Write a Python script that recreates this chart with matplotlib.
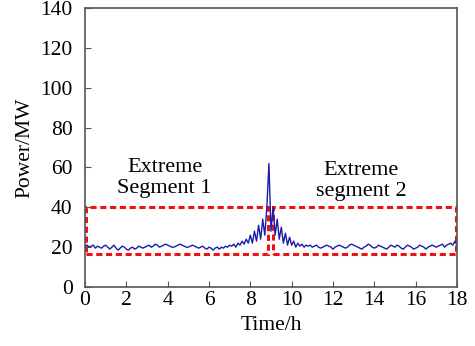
import numpy as np
import matplotlib
matplotlib.use('Agg')
import matplotlib.pyplot as plt
from matplotlib.patches import Rectangle

plt.rcParams['font.family'] = ['Liberation Serif', 'DejaVu Serif']

# power samples every 0.1 h from 0 to 18 h
power = [
    20.5, 21, 20, 20.5, 21, 19.5, 20.5, 20, 19.5, 20.5,
    21, 20, 19, 20, 21, 19.5, 18.5, 19.5, 20.5, 20,
    19, 18.5, 19.5, 20, 19, 19.5, 20.5, 20, 19.5, 20,
    20.5, 21, 20, 20.5, 21.5, 21, 20, 20.5, 21, 21.5,
    21, 20.5, 20, 20, 20.5, 21, 21.5, 21, 20.5, 20,
    20, 20.5, 21, 20.5, 20, 19.5, 20, 20.5, 19.5, 19,
    20, 19.5, 18.5, 19.5, 20, 19, 20, 19.5, 20.5, 20,
    21, 20.5, 21.5, 20, 22, 21, 23, 21.5, 24, 22,
    26, 22, 28, 23, 31, 24, 34, 26, 40, 62,
    28, 40, 26, 34, 24, 30, 22, 27, 21, 25,
    21, 23, 20, 22, 20.5, 21.5, 20, 21, 20.5, 21,
    20, 20.5, 21, 20, 19.5, 20, 20.5, 21, 20.5, 20,
    19, 20, 20.5, 21, 20.5, 20, 19.5, 20, 21, 21.5,
    21, 20.5, 20, 19.5, 19, 20, 20.5, 21.5, 21, 20,
    19.5, 20, 21, 20.5, 20, 19.5, 19, 20, 21, 20.5,
    20, 21, 20.5, 19.5, 19, 20, 21, 20.5, 20, 19,
    19.5, 20, 21, 20.5, 20, 19, 20, 20.5, 21, 20.5,
    20, 20.5, 21, 21.5, 20, 21, 21.5, 22, 21, 23,
    21,
]
time = np.round(np.arange(len(power)) * 0.1, 1)

# extreme segments: (start h, end h, low MW, high MW)
segments = [(0.05, 8.85, 16.5, 40), (9.1, 17.95, 16.5, 40)]
seg_labels = ['Extreme\nSegment 1', 'Extreme\nsegment 2']
seg_label_pos = [(3.85, 54.5), (13.35, 53)]

fig = plt.figure(figsize=(4.75, 3.46), dpi=100)
ax = fig.add_axes([0.179, 0.1705, 0.783, 0.8065])

ax.plot(time, power, color='#1c1ca8', lw=1.0)

for (x0, x1, y0, y1) in segments:
    ax.add_patch(Rectangle((x0, y0), x1 - x0, y1 - y0, fill=False,
                           edgecolor='#ee1111', lw=2.2, ls=(0, (2, 1.2))))

for txt, (x, y) in zip(seg_labels, seg_label_pos):
    ax.text(x, y, txt, ha='center', va='center', fontsize=16, linespacing=1.15)

ax.set_xlim(0, 18)
ax.set_ylim(0, 140)
ax.set_xticks(np.arange(0, 19, 2))
ax.set_yticks(np.arange(0, 141, 20))
ax.tick_params(direction='in', length=4, labelsize=15.5, color='#555555')
ax.tick_params(axis='x', pad=3)
ax.tick_params(axis='y', pad=9)
for sp in ax.spines.values():
    sp.set_color('#555555')
    sp.set_linewidth(1.2)
ax.set_xlabel('Time/h', fontsize=15.5, labelpad=4)
ax.set_ylabel('Power/MW', fontsize=15.5, labelpad=4)

fig.savefig('out.png', dpi=100)
